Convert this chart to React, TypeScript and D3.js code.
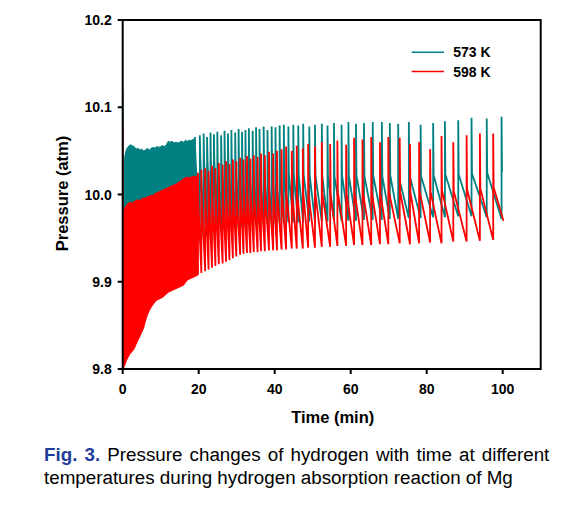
import React from 'react';
import * as d3 from 'd3';

// ---- axis ticks ----
const xTicks = [0, 20, 40, 60, 80, 100];
const yTicks = [9.8, 9.9, 10.0, 10.1, 10.2];
const yTickLabels = ['9.8', '9.9', '10.0', '10.1', '10.2'];

// ---- legend ----
const seriesNames = ['573 K', '598 K'];
const seriesColors = ['#008080', '#ff0000'];

// ---- initial pressure spikes at t = 0 ----
const tealInit: [number, number][] = [[0, 10.12], [0.08, 9.96]];
const redInit: [number, number][] = [[0, 10.078], [0.05, 9.8]];

// ---- dense (unresolved) oscillation band, 573 K ----
const tealDenseT = [0.1, 0.3, 0.6, 1.0, 1.5, 2.0, 2.5, 3.0, 3.5, 4.0, 4.5, 5.0, 5.5, 6.0, 6.5, 7.0, 7.5, 8.0, 8.5, 9.0, 9.5, 10.0, 10.5, 11.0, 11.5, 12.0, 12.5, 13.0, 13.5, 14.0, 14.5, 15.0, 15.5, 16.0, 16.5, 17.0, 17.5, 18.0, 18.5, 19.0];
const tealDenseHigh = [9.99, 10.03, 10.045, 10.052, 10.055, 10.057, 10.056, 10.055, 10.052, 10.053, 10.051, 10.052, 10.05, 10.051, 10.053, 10.051, 10.053, 10.054, 10.053, 10.055, 10.054, 10.055, 10.056, 10.055, 10.057, 10.061, 10.06, 10.061, 10.059, 10.06, 10.059, 10.06, 10.061, 10.06, 10.062, 10.061, 10.062, 10.062, 10.063, 10.064];
const tealDenseLow = [9.95, 9.95, 9.955, 9.96, 9.965, 9.97, 9.975, 9.975, 9.978, 9.978, 9.98, 9.98, 9.98, 9.98, 9.98, 9.98, 9.98, 9.98, 9.98, 9.98, 9.98, 9.98, 9.98, 9.98, 9.98, 9.98, 9.98, 9.98, 9.98, 9.98, 9.98, 9.98, 9.98, 9.98, 9.98, 9.98, 9.98, 9.98, 9.975, 9.975];

// ---- dense oscillation band, 598 K ----
const redDenseT = [0.1, 0.5, 1.0, 1.5, 2.0, 2.5, 3.0, 3.5, 4.0, 4.5, 5.0, 5.5, 6.0, 6.5, 7.0, 7.5, 8.0, 8.5, 9.0, 9.5, 10.0, 10.5, 11.0, 11.5, 12.0, 12.5, 13.0, 13.5, 14.0, 14.5, 15.0, 15.5, 16.0, 16.5, 17.0, 17.5, 18.0, 18.5, 19.0, 19.5, 19.8];
const redDenseHigh = [9.975, 9.984, 9.988, 9.99, 9.991, 9.99, 9.992, 9.993, 9.994, 9.993, 9.995, 9.996, 9.996, 9.997, 9.998, 9.999, 9.999, 10.001, 10.002, 10.003, 10.004, 10.005, 10.006, 10.007, 10.008, 10.009, 10.01, 10.011, 10.012, 10.013, 10.015, 10.016, 10.018, 10.019, 10.02, 10.019, 10.02, 10.021, 10.02, 10.021, 10.021];
const redDenseLow = [9.8, 9.804, 9.81, 9.814, 9.818, 9.82, 9.823, 9.828, 9.833, 9.837, 9.842, 9.847, 9.855, 9.862, 9.867, 9.871, 9.874, 9.877, 9.879, 9.88, 9.881, 9.882, 9.884, 9.886, 9.888, 9.889, 9.89, 9.891, 9.892, 9.893, 9.894, 9.895, 9.896, 9.899, 9.902, 9.903, 9.904, 9.905, 9.906, 9.907, 9.908];

// ---- resolved refill cycles, 573 K (spike time, spike peak, level after spike, level before next spike) ----
const tealTimes = [19.0, 20.3, 21.3, 22.2, 23.1, 24.0, 24.9, 25.9, 26.8, 27.7, 28.6, 29.6, 30.5, 31.4, 32.3, 33.2, 34.2, 35.1, 36.0, 37.1, 38.1, 39.2, 40.2, 41.3, 42.4, 43.6, 44.9, 46.2, 47.5, 49.1, 50.6, 52.4, 53.9, 55.6, 57.6, 59.4, 61.4, 63.5, 65.8, 68.2, 70.3, 72.5, 75.3, 78.4, 81.7, 84.8, 88.3, 91.8, 95.8, 99.7];
const tealPeaks = [10.066, 10.068, 10.07, 10.066, 10.071, 10.069, 10.072, 10.068, 10.073, 10.07, 10.074, 10.071, 10.075, 10.072, 10.074, 10.076, 10.073, 10.077, 10.075, 10.078, 10.074, 10.078, 10.077, 10.079, 10.08, 10.078, 10.08, 10.079, 10.081, 10.078, 10.08, 10.081, 10.079, 10.082, 10.08, 10.083, 10.081, 10.082, 10.083, 10.083, 10.082, 10.081, 10.083, 10.08, 10.082, 10.084, 10.085, 10.088, 10.087, 10.089];
const tealDrops = [10.045, 10.042, 10.04, 10.04, 10.038, 10.038, 10.036, 10.036, 10.035, 10.034, 10.033, 10.032, 10.031, 10.03, 10.03, 10.029, 10.028, 10.028, 10.027, 10.027, 10.026, 10.026, 10.025, 10.025, 10.024, 10.024, 10.023, 10.023, 10.023, 10.022, 10.022, 10.022, 10.022, 10.021, 10.022, 10.021, 10.022, 10.021, 10.022, 10.021, 10.022, 10.021, 10.023, 10.021, 10.022, 10.023, 10.023, 10.024, 10.025, 10.026];
const tealTroughs = [9.945, 9.95, 9.952, 9.955, 9.957, 9.958, 9.959, 9.96, 9.961, 9.962, 9.963, 9.963, 9.964, 9.964, 9.965, 9.965, 9.965, 9.966, 9.966, 9.966, 9.967, 9.967, 9.967, 9.967, 9.968, 9.968, 9.968, 9.968, 9.969, 9.969, 9.969, 9.969, 9.97, 9.97, 9.97, 9.97, 9.971, 9.971, 9.971, 9.972, 9.972, 9.973, 9.973, 9.974, 9.974, 9.975, 9.975, 9.974, 9.972, 10.026];
const tealEnd = 99.85;

// ---- resolved refill cycles, 598 K ----
const redTimes = [19.8, 20.7, 21.7, 22.6, 23.5, 24.4, 25.3, 26.3, 27.2, 28.1, 29.0, 29.9, 30.9, 31.8, 32.7, 33.6, 34.5, 35.5, 36.4, 37.4, 38.5, 39.6, 40.6, 41.8, 43.0, 44.5, 45.8, 47.4, 48.8, 50.6, 52.4, 54.6, 56.5, 58.8, 60.9, 63.1, 65.4, 67.7, 69.9, 72.9, 75.6, 78.0, 80.9, 83.9, 87.0, 90.5, 94.0, 97.5];
const redPeaks = [10.025, 10.028, 10.03, 10.027, 10.033, 10.03, 10.036, 10.034, 10.038, 10.035, 10.04, 10.038, 10.042, 10.04, 10.044, 10.041, 10.045, 10.043, 10.047, 10.045, 10.049, 10.047, 10.05, 10.052, 10.055, 10.05, 10.056, 10.053, 10.058, 10.055, 10.06, 10.058, 10.062, 10.057, 10.065, 10.063, 10.066, 10.06, 10.066, 10.065, 10.058, 10.06, 10.052, 10.067, 10.06, 10.068, 10.07, 10.07];
const redDrops = [9.99, 9.992, 9.993, 9.994, 9.995, 9.995, 9.996, 9.996, 9.997, 9.997, 9.998, 9.998, 9.998, 9.999, 9.999, 9.999, 10.0, 10.0, 10.0, 10.0, 10.0, 10.001, 10.0, 10.001, 10.0, 10.001, 10.0, 10.002, 10.0, 10.001, 10.002, 10.0, 10.002, 10.001, 10.003, 10.002, 10.003, 10.001, 10.004, 10.003, 10.002, 10.004, 10.003, 10.005, 10.004, 10.006, 10.007, 10.008];
const redTroughs = [9.91, 9.912, 9.914, 9.916, 9.918, 9.92, 9.921, 9.923, 9.925, 9.927, 9.929, 9.931, 9.932, 9.933, 9.933, 9.934, 9.934, 9.935, 9.935, 9.936, 9.936, 9.936, 9.937, 9.937, 9.938, 9.938, 9.938, 9.939, 9.939, 9.94, 9.94, 9.941, 9.941, 9.942, 9.942, 9.942, 9.943, 9.943, 9.944, 9.943, 9.944, 9.945, 9.944, 9.946, 9.946, 9.947, 9.948, 9.97];
const redEnd = 100.2;

const W = 584;
const H = 513;
const FONT = "'Liberation Sans', Arial, Helvetica, sans-serif";

function buildCycles(times: number[], peaks: number[], drops: number[], troughs: number[], end: number, start: number) {
  const pts: [number, number][] = [[times[0], start]];
  for (let i = 0; i < times.length; i++) {
    const next = i + 1 < times.length ? times[i + 1] : end;
    pts.push([times[i], peaks[i]]);
    pts.push([times[i] + 0.12, drops[i]]);
    pts.push([next, troughs[i]]);
  }
  return pts;
}

export default function App() {
  const x = d3.scaleLinear().domain([0, 110]).range([122.7, 540.7]);
  const y = d3.scaleLinear().domain([9.8, 10.2]).range([369, 20]);
  const x0 = x(0), x1 = x(110), y0 = y(9.8), y1 = y(10.2);

  const line = d3.line<[number, number]>().x(d => x(d[0])).y(d => y(d[1]));

  const tealArea = d3.area<number>()
    .x((_, i) => x(tealDenseT[i]))
    .y0((_, i) => y(tealDenseLow[i]))
    .y1((_, i) => y(tealDenseHigh[i]))(tealDenseT);
  const redArea = d3.area<number>()
    .x((_, i) => x(redDenseT[i]))
    .y0((_, i) => y(redDenseLow[i]))
    .y1((_, i) => y(redDenseHigh[i]))(redDenseT);

  const tealPts = buildCycles(tealTimes, tealPeaks, tealDrops, tealTroughs, tealEnd, tealDenseLow[tealDenseLow.length - 1]);
  const redPts = buildCycles(redTimes, redPeaks, redDrops, redTroughs, redEnd, redDenseLow[redDenseLow.length - 1]);

  return (
    <svg width={W} height={H} style={{ position: 'absolute', left: 0, top: 0, background: '#fff' }} fontFamily={FONT}>
      <rect x={0} y={0} width={W} height={H} fill="#fff" />
      <defs>
        <clipPath id="plotclip">
          <rect x={x0} y={y1} width={x1 - x0} height={y0 - y1} />
        </clipPath>
      </defs>
      <g clipPath="url(#plotclip)">
        {/* 573 K */}
        <path d={tealArea || ''} fill={seriesColors[0]} stroke={seriesColors[0]} strokeWidth={1} />
        <path d={line(tealInit) || ''} fill="none" stroke={seriesColors[0]} strokeWidth={1.5} />
        <path d={line(tealPts) || ''} fill="none" stroke={seriesColors[0]} strokeWidth={1.8} strokeLinejoin="miter" strokeMiterlimit={2} />
        {/* 598 K */}
        <path d={redArea || ''} fill={seriesColors[1]} stroke={seriesColors[1]} strokeWidth={1} />
        <path d={line(redInit) || ''} fill="none" stroke={seriesColors[1]} strokeWidth={1.5} />
        <path d={line(redPts) || ''} fill="none" stroke={seriesColors[1]} strokeWidth={1.8} strokeLinejoin="miter" strokeMiterlimit={2} />
      </g>

      {/* frame */}
      <rect x={x0} y={y1} width={x1 - x0} height={y0 - y1} fill="none" stroke="#000" strokeWidth={2} />

      {/* x ticks */}
      {xTicks.map(t => (
        <g key={'x' + t}>
          <line x1={x(t)} x2={x(t)} y1={y0} y2={y0 + 5} stroke="#000" strokeWidth={2} />
          <text x={x(t)} y={y0 + 25} textAnchor="middle" fontSize={14} fontWeight="bold" fill="#000">{t}</text>
        </g>
      ))}
      {/* y ticks */}
      {yTicks.map((t, i) => (
        <g key={'y' + t}>
          <line x1={x0 - 5} x2={x0} y1={y(t)} y2={y(t)} stroke="#000" strokeWidth={2} />
          <text x={x0 - 11} y={y(t) + 5} textAnchor="end" fontSize={14} fontWeight="bold" fill="#000">{yTickLabels[i]}</text>
        </g>
      ))}

      {/* axis titles */}
      <text x={(x(0) + x(110)) / 2 + 1} y={423} textAnchor="middle" fontSize={16.5} fontWeight="bold" fill="#000">Time (min)</text>
      <text transform={`translate(68,${(y0 + y1) / 2 - 1}) rotate(-90)`} textAnchor="middle" fontSize={16.5} fontWeight="bold" fill="#000">Pressure (atm)</text>

      {/* legend */}
      {seriesNames.map((n, i) => (
        <g key={n}>
          <line x1={411.7} x2={444} y1={52.3 + i * 19.2} y2={52.3 + i * 19.2} stroke={seriesColors[i]} strokeWidth={1.5} />
          <text x={453.3} y={57.3 + i * 19.4} fontSize={14} fontWeight="bold" fill="#000">{n}</text>
        </g>
      ))}

      {/* caption */}
      <text x={44} y={461} fontSize={18.8} fill="#000" wordSpacing={1.9}>
        <tspan fill="#1f3d99" fontWeight="bold">Fig. 3.</tspan>
        <tspan> Pressure changes of hydrogen with time at different</tspan>
      </text>
      <text x={44} y={484} fontSize={18.8} fill="#000">temperatures during hydrogen absorption reaction of Mg</text>
    </svg>
  );
}
